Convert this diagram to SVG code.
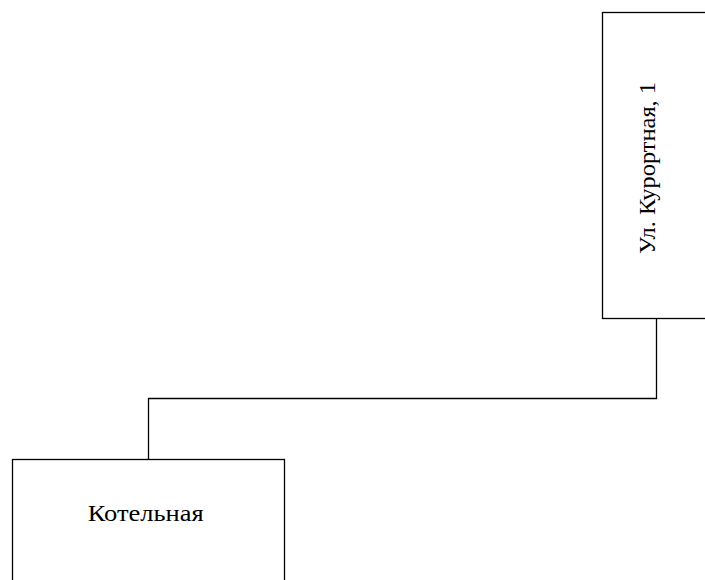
<svg xmlns="http://www.w3.org/2000/svg" width="705" height="580" viewBox="0 0 705 580">
<style>
.box{fill:#fff;stroke:#000;stroke-width:1.3}
.lbl{font-family:"Liberation Serif","Times New Roman",serif;font-size:24px;fill:#000;text-anchor:middle}
.wire{fill:none;stroke:#000;stroke-width:1.3}
</style>
<rect width="705" height="580" fill="#fff"/>
<g id="connectors">
<polyline class="wire" points="656.5,318.5 656.5,398.5 148.5,398.5 148.5,459.5"/>
</g>
<g id="node-kurortnaya">
<rect class="box" x="602.5" y="12.5" width="106" height="306"/>
<text class="lbl" transform="translate(655,168) rotate(-90)" textLength="172" lengthAdjust="spacingAndGlyphs">Ул. Курортная, 1</text>
</g>
<g id="node-kotelnaya">
<rect class="box" x="12.5" y="459.5" width="272" height="130"/>
<text class="lbl" x="145.7" y="521" textLength="116" lengthAdjust="spacingAndGlyphs">Котельная</text>
</g>
</svg>
